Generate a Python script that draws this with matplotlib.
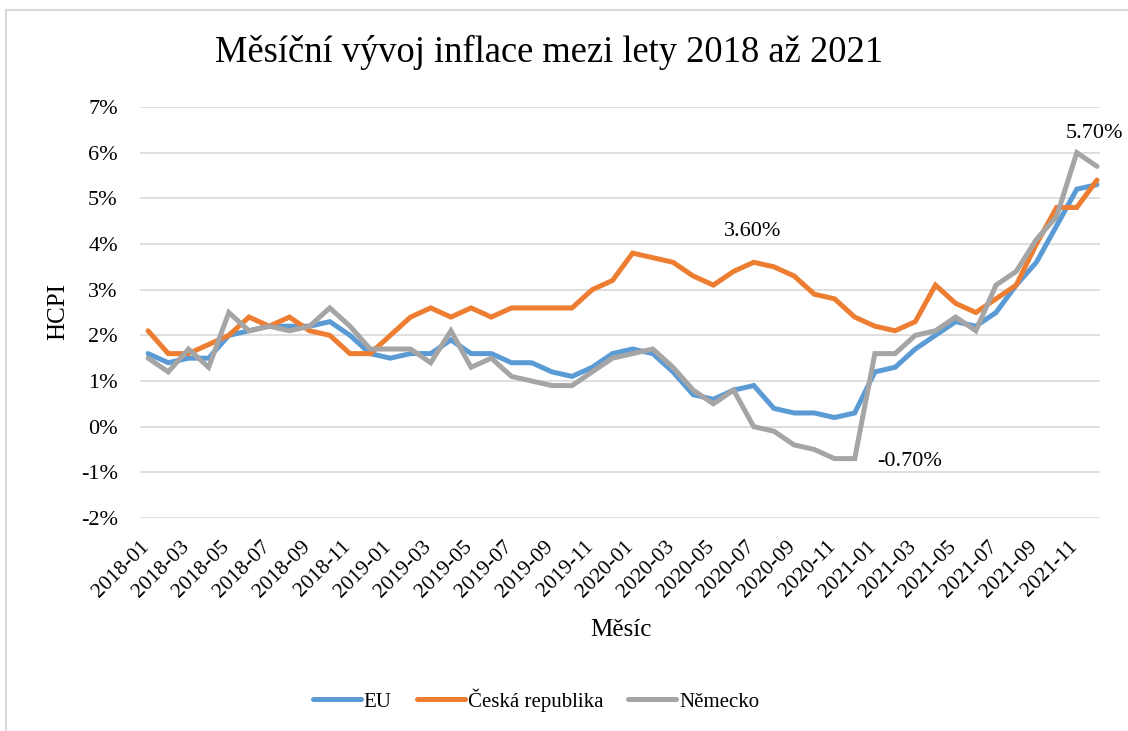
import matplotlib
matplotlib.use("Agg")
import matplotlib.pyplot as plt
from matplotlib.patches import Rectangle
from matplotlib.transforms import ScaledTranslation

plt.rcParams["font.family"] = ["Liberation Serif", "DejaVu Serif"]

# data (HICP, % y/y)
months = [f"{y}-{m:02d}" for y in range(2018, 2022) for m in range(1, 13)]
eu = [1.6, 1.4, 1.5, 1.5, 2.0, 2.1, 2.2, 2.2, 2.2, 2.3, 2.0, 1.6,
      1.5, 1.6, 1.6, 1.9, 1.6, 1.6, 1.4, 1.4, 1.2, 1.1, 1.3, 1.6,
      1.7, 1.6, 1.2, 0.7, 0.6, 0.8, 0.9, 0.4, 0.3, 0.3, 0.2, 0.3,
      1.2, 1.3, 1.7, 2.0, 2.3, 2.2, 2.5, 3.1, 3.6, 4.4, 5.2, 5.3]
cz = [2.1, 1.6, 1.6, 1.8, 2.0, 2.4, 2.2, 2.4, 2.1, 2.0, 1.6, 1.6,
      2.0, 2.4, 2.6, 2.4, 2.6, 2.4, 2.6, 2.6, 2.6, 2.6, 3.0, 3.2,
      3.8, 3.7, 3.6, 3.3, 3.1, 3.4, 3.6, 3.5, 3.3, 2.9, 2.8, 2.4,
      2.2, 2.1, 2.3, 3.1, 2.7, 2.5, 2.8, 3.1, 4.0, 4.8, 4.8, 5.4]
de = [1.5, 1.2, 1.7, 1.3, 2.5, 2.1, 2.2, 2.1, 2.2, 2.6, 2.2, 1.7,
      1.7, 1.7, 1.4, 2.1, 1.3, 1.5, 1.1, 1.0, 0.9, 0.9, 1.2, 1.5,
      1.6, 1.7, 1.3, 0.8, 0.5, 0.8, 0.0, -0.1, -0.4, -0.5, -0.7, -0.7,
      1.6, 1.6, 2.0, 2.1, 2.4, 2.1, 3.1, 3.4, 4.1, 4.6, 6.0, 5.7]
series_names = ["EU", "Česká republika", "Německo"]
colors = ["#5B9BD5", "#ED7D31", "#A5A5A5"]
y_ticks = list(range(-2, 8))

fig = plt.figure(figsize=(11.28, 7.31), dpi=100)
ax = fig.add_axes([140 / 1128, 1 - 518 / 731, 960 / 1128, 411 / 731])

# chart area border
fig.patches.append(Rectangle((6 / 1128, -0.1), 1.2, 1.1 - 10 / 731,
                             transform=fig.transFigure, fill=False,
                             edgecolor="#D9D9D9", linewidth=1.5))

x = list(range(len(months)))
for vals, name, c in zip([eu, cz, de], series_names, colors):
    ax.plot(x, vals, color=c, lw=3.6, label=name, solid_capstyle="round",
            solid_joinstyle="miter")

ax.set_xlim(-0.4, 47.15)
ax.set_ylim(-2, 7)
ax.set_yticks(y_ticks)
ax.set_yticklabels([f"{v}%" for v in y_ticks])
ax.set_xticks(x[::2])
ax.set_xticklabels(months[::2], rotation=45, ha="right", va="top")
ax.tick_params(axis="y", length=0, pad=16, labelsize=16)
ax.tick_params(axis="x", length=0, pad=14, labelsize=15.5)
for lab in ax.get_xticklabels():
    lab.set_transform(lab.get_transform() + ScaledTranslation(0.05, 0, fig.dpi_scale_trans))

ax.grid(axis="y", color="#D9D9D9", lw=1.2)
ax.set_axisbelow(True)
for s in ax.spines.values():
    s.set_visible(False)

# data labels
ax.annotate("3.60%", (30, cz[30]), xytext=(-1, 22), textcoords="offset points",
            ha="center", va="center", fontsize=16)
ax.annotate("5.70%", (47, de[47]), xytext=(-2, 24), textcoords="offset points",
            ha="center", va="center", fontsize=16)
ax.annotate("-0.70%", (35, de[35]), xytext=(16, -2), textcoords="offset points",
            ha="left", va="center", fontsize=16)

fig.text(549 / 1128, 1 - 52 / 731, "Měsíční vývoj inflace mezi lety 2018 až 2021",
         ha="center", va="center", fontsize=26.3)
fig.text(58 / 1128, 1 - 312 / 731, "HCPI", rotation=90, ha="center", va="center", fontsize=18)
fig.text(621 / 1128, 1 - 630 / 731, "Měsíc", ha="center", va="center", fontsize=18)

fig.legend(loc="center", bbox_to_anchor=(536 / 1128, 1 - 700 / 731), ncol=3,
           frameon=False, fontsize=15, handlelength=2.3, handletextpad=0.15,
           columnspacing=1.2)

fig.savefig("out.png", dpi=100)
